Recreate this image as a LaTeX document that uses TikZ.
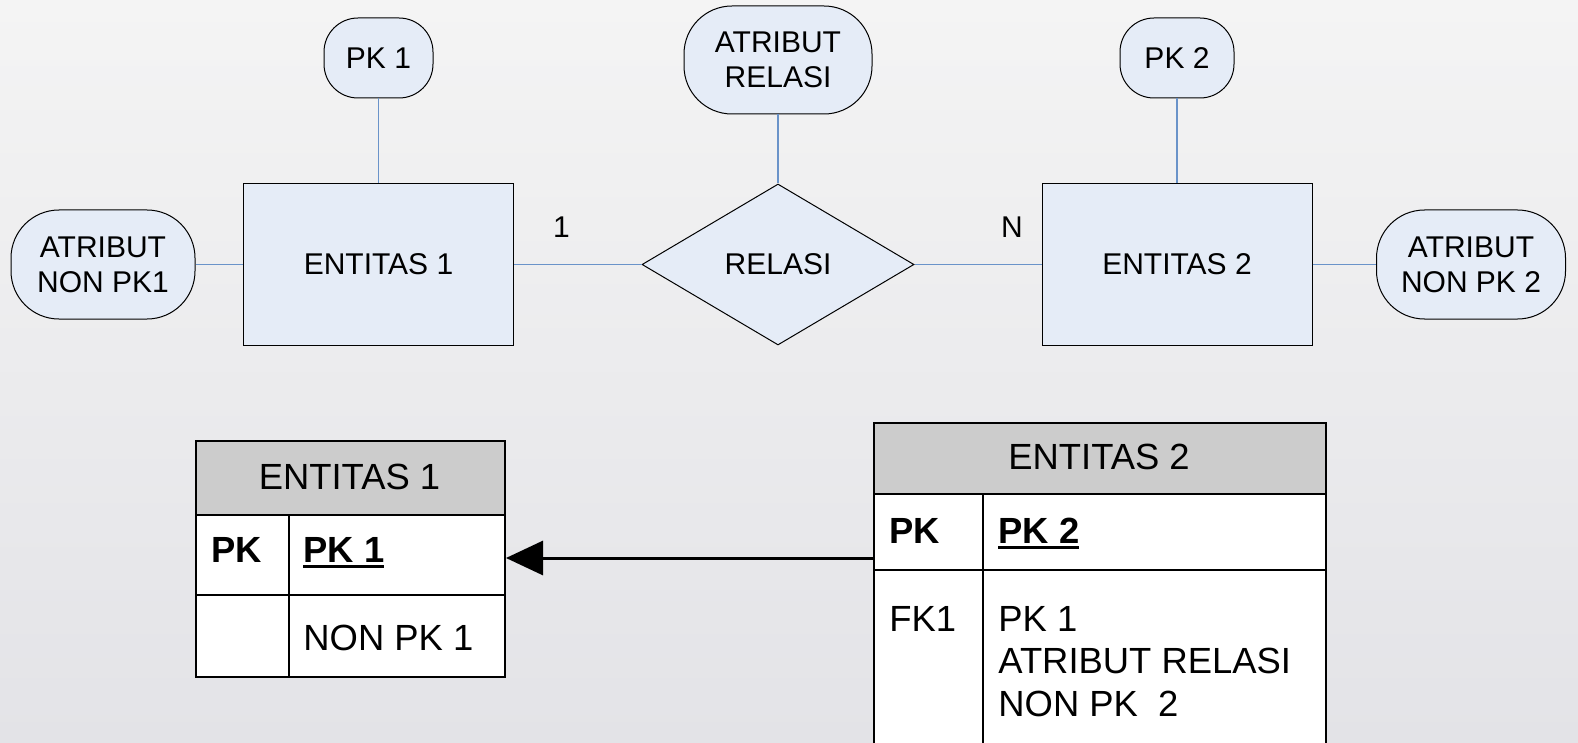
\documentclass[tikz,border=0pt]{standalone}
\usepackage{fontspec}
\setmainfont{Liberation Sans}
\usetikzlibrary{shapes.geometric,arrows.meta}
\definecolor{erfill}{HTML}{E5ECF7}
\definecolor{linkblue}{HTML}{6A93C9}
\definecolor{headgray}{HTML}{CCCCCC}
\definecolor{bgtop}{HTML}{F4F4F4}
\definecolor{bgbottom}{HTML}{E3E3E7}
% bold word with a heavy underline
\newcommand{\ulword}[1]{\setbox0\hbox{\bfseries #1}\rlap{\rule[-2.9pt]{\wd0}{1.6pt}}\box0}
\tikzset{
  ertext/.style={font=\fontsize{15pt}{17.5pt}\selectfont, align=center},
  entity/.style={ertext, draw=black, line width=0.5pt, fill=erfill, rectangle, inner sep=0pt},
  attrib/.style={ertext, draw=black, line width=0.5pt, fill=erfill, rectangle, rounded corners=24pt, inner sep=0pt},
  pkattrib/.style={attrib, rounded corners=17pt},
  relation/.style={ertext, draw=black, line width=0.5pt, fill=erfill, diamond, inner sep=0pt, aspect=1.69},
  link/.style={draw=linkblue, line width=0.6pt},
  card/.style={font=\fontsize{15pt}{17.5pt}\selectfont, inner sep=0pt},
  cell/.style={draw=black, line width=1pt, rectangle, anchor=north west, inner sep=0pt},
  headcell/.style={cell, fill=headgray},
  bodycell/.style={cell, fill=white},
  tabtext/.style={font=\fontsize{18.2pt}{21.3pt}\selectfont, inner sep=0pt, anchor=base west},
  fkarrow/.style={line width=1.5pt, -{Triangle[length=18.5pt, width=17pt]}},
}
\begin{document}
\begin{tikzpicture}[x=0.5pt, y=-0.5pt]
\clip (0,0) rectangle (1578,743);
\shade[top color=bgtop, bottom color=bgbottom] (0,0) rectangle (1578,743);

% ---- ER diagram ----
\node[entity, minimum width=135pt, minimum height=80.5pt] (e1) at (378.5,264.5) {ENTITAS 1};
\node[relation, minimum width=136pt, minimum height=80.5pt] (rel) at (778,264.5) {RELASI};
\node[entity, minimum width=135pt, minimum height=80.5pt] (e2) at (1177,264.5) {ENTITAS 2};

\node[pkattrib, minimum width=54.5pt, minimum height=40pt] (pk1) at (378.5,58) {PK 1};
\node[attrib, minimum width=94pt, minimum height=54pt] (ar) at (778,60) {ATRIBUT\\RELASI};
\node[pkattrib, minimum width=57pt, minimum height=40pt] (pk2) at (1177,58) {PK 2};
\node[attrib, minimum width=92pt, minimum height=54.5pt] (np1) at (103,264.5) {ATRIBUT\\NON PK1};
\node[attrib, minimum width=94.5pt, minimum height=54.5pt] (np2) at (1471,264.5) {ATRIBUT\\NON PK 2};

\draw[link] (pk1.south) -- (e1.north);
\draw[link] (np1.east) -- (e1.west);
\draw[link] (e1.east) -- (rel.west);
\draw[link] (ar.south) -- (rel.north);
\draw[link] (rel.east) -- (e2.west);
\draw[link] (pk2.south) -- (e2.north);
\draw[link] (e2.east) -- (np2.west);

\node[card] (c1) at (561.5,227) {1};
\node[card] (cn) at (1012,227) {N};

% ---- table ENTITAS 1 ----
\node[headcell, minimum width=154.5pt, minimum height=37pt] (t1h) at (195,440) {};
\node[bodycell, minimum width=46.5pt, minimum height=40pt] (t1a) at (195,514) {};
\node[bodycell, minimum width=108pt, minimum height=40pt] (t1b) at (288,514) {};
\node[bodycell, minimum width=46.5pt, minimum height=41pt] (t1c) at (195,594) {};
\node[bodycell, minimum width=108pt, minimum height=41pt] (t1d) at (288,594) {};

\node[tabtext, anchor=base] (t1title) at (349.5,489) {ENTITAS 1};
\node[tabtext] (t1pk) at (211,562) {\bfseries PK};
\node[tabtext] (t1pkv) at (303,562) {\ulword{PK 1}};
\node[tabtext] (t1np) at (303,650) {NON PK 1};

% ---- table ENTITAS 2 ----
\node[headcell, minimum width=226pt, minimum height=35.5pt] (t2h) at (873,422) {};
\node[bodycell, minimum width=54.5pt, minimum height=38pt] (t2a) at (873,493) {};
\node[bodycell, minimum width=171.5pt, minimum height=38pt] (t2b) at (982,493) {};
\node[bodycell, minimum width=54.5pt, minimum height=100pt] (t2c) at (873,569) {};
\node[bodycell, minimum width=171.5pt, minimum height=100pt] (t2d) at (982,569) {};

\node[tabtext, anchor=base] (t2title) at (1099,469) {ENTITAS 2};
\node[tabtext] (t2pk) at (889,543) {\bfseries PK};
\node[tabtext] (t2pkv) at (998,543) {\ulword{PK 2}};
\node[tabtext] (t2fk) at (889,631) {FK1};
\node[tabtext] (t2f1) at (998,631) {PK 1};
\node[tabtext] (t2f2) at (998,673.5) {ATRIBUT RELASI};
\node[tabtext] (t2f3) at (998,716) {NON PK\ \ 2};

% ---- foreign key reference ----
\coordinate (fkstart) at (873,558);
\draw[fkarrow] (fkstart) -- (fkstart -| t1b.east);
\end{tikzpicture}
\end{document}
